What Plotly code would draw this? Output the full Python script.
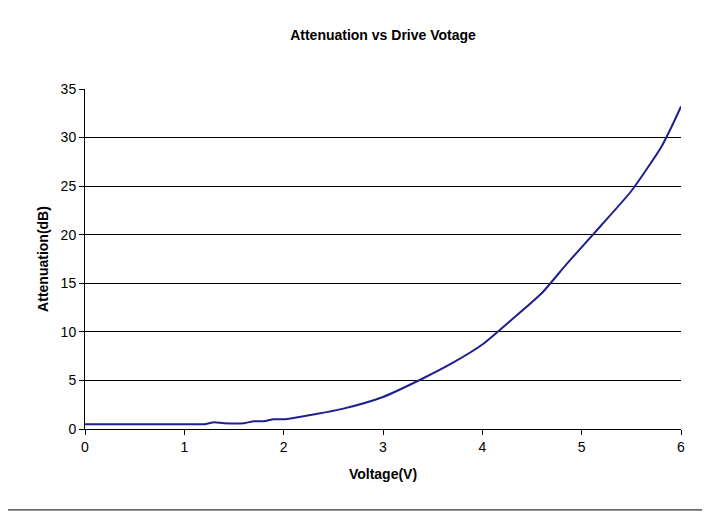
import plotly.graph_objects as go

voltage = [0, 1, 1.2, 1.3, 1.4, 1.6, 1.7, 1.8, 1.9, 2.0, 2.3, 2.6, 3.0, 3.4, 3.7, 4.0, 4.3, 4.6, 4.85, 5.2, 5.5, 5.8, 5.9, 6.0]
atten = [0.5, 0.5, 0.5, 0.7, 0.6, 0.6, 0.8, 0.8, 1.0, 1.0, 1.5, 2.1, 3.3, 5.2, 6.8, 8.7, 11.3, 14.0, 17.0, 21.0, 24.5, 29.0, 31.0, 33.2]

fig = go.Figure(go.Scatter(x=voltage, y=atten, mode="lines", line=dict(color="#1f1f8f", width=2, shape="spline", smoothing=0.6)))
fig.update_layout(
    width=710, height=515, margin=dict(l=77, r=37, t=81, b=94),
    paper_bgcolor="white", plot_bgcolor="white", showlegend=False,
    font=dict(family="Arial, Liberation Sans", size=14, color="black"),
    title=dict(text="<b>Attenuation vs Drive Votage</b>", x=0.5, xref="paper", y=0.948, yanchor="middle", font=dict(size=14)),
    xaxis=dict(range=[0, 6], dtick=1, showgrid=False, showline=True, linecolor="black",
               ticks="outside", ticklen=5, tickcolor="black", zeroline=False,
               title=dict(text="<b>Voltage(V)</b>", font=dict(size=14), standoff=15)),
    yaxis=dict(range=[0, 35], dtick=5, showgrid=True, gridcolor="black", gridwidth=1,
               showline=True, linecolor="black", ticks="outside", ticklen=5, tickcolor="black",
               zeroline=False, title=dict(text="<b>Attenuation(dB)</b>", font=dict(size=14), standoff=8)),
    shapes=[dict(type="rect", xref="paper", yref="paper", x0=-0.134, x1=1.040, y0=-0.238, y1=1.247,
                 line=dict(color="black", width=1))],
)
fig.write_html("out.html")
